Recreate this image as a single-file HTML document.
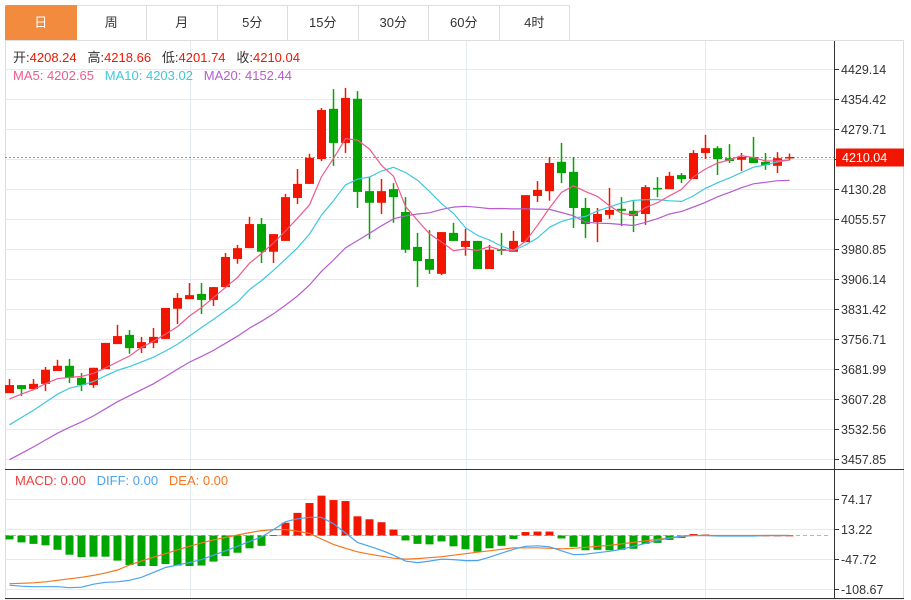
<!DOCTYPE html>
<html><head><meta charset="utf-8">
<style>
body{margin:0;background:#fff;width:911px;height:600px;overflow:hidden;font-family:"Liberation Sans","Noto Sans CJK SC",sans-serif;}
.tabs{position:absolute;left:5px;top:5px;height:35px;display:flex;}
.tab{width:69.5px;height:34px;border:1px solid #ddd;border-left:none;box-sizing:content-box;text-align:center;line-height:34px;font-size:13px;color:#333;}
.tab.first{border-left:1px solid #ddd;}
.tab.active{background:#f38b3e;color:#fff;border-color:#f38b3e;border-radius:2px 0 0 0;}
svg{position:absolute;left:0;top:0;}
</style></head><body>
<div class="tabs">
<div class="tab first active">日</div>
<div class="tab">周</div>
<div class="tab">月</div>
<div class="tab">5分</div>
<div class="tab">15分</div>
<div class="tab">30分</div>
<div class="tab">60分</div>
<div class="tab">4时</div>
</div>
<svg id="chart" width="911" height="600"></svg>
<script>
const opens=[3622,3642,3632,3645,3677,3690,3660,3642,3682,3744,3767,3734,3747,3757,3832,3856,3869,3854,3886,3956,3983,4043,3974,4001,4108,4143,4205,4330,4245,4355,4125,4096,4130,4073,3986,3956,3919,4021,3986,4001,3931,3981,3974,3998,4113,4125,4198,4173,4083,4048,4066,4081,4076,4068,4133,4130,4165,4155,4220,4232,4207,4203,4210,4198,4188,4208.24];
const highs=[3657,3642,3657,3687,3705,3707,3672,3685,3747,3792,3779,3762,3784,3834,3871,3896,3896,3886,3971,3991,4061,4058,4018,4118,4180,4218,4332,4379,4382,4374,4160,4155,4145,4110,4021,4028,4023,4046,4031,4001,3991,4021,4026,4115,4150,4210,4245,4210,4108,4083,4133,4110,4100,4140,4160,4173,4170,4227,4265,4237,4242,4220,4260,4220,4222,4218.66];
const lows=[3622,3615,3632,3627,3677,3647,3627,3635,3682,3744,3720,3722,3734,3757,3794,3856,3819,3839,3886,3944,3983,3946,3946,4001,4093,4143,4200,4188,4220,4083,4006,4068,4046,3971,3886,3919,3916,4001,3964,3931,3931,3966,3974,3998,4098,4101,4145,4033,4008,3998,4056,4038,4023,4041,4110,4130,4145,4155,4205,4165,4195,4175,4195,4178,4170,4201.74];
const closes=[3642,3632,3645,3680,3690,3660,3642,3685,3747,3764,3734,3749,3762,3834,3859,3866,3854,3886,3961,3983,4043,3974,4018,4110,4143,4208,4327,4245,4357,4123,4096,4125,4110,3979,3951,3929,4023,4001,4001,3931,3979,3976,4001,4115,4128,4195,4170,4083,4043,4068,4078,4076,4063,4135,4130,4163,4155,4220,4232,4205,4200,4210,4195,4190,4207,4210.04];
const priorCloses=[3310,3325,3340,3350,3365,3375,3385,3395,3410,3435,3450,3465,3480,3490,3510,3570,3590,3605,3628];
const macdHist=[-8,-14,-17,-20,-29,-39,-44,-43,-43,-51,-60,-62,-62,-58,-61,-62,-61,-53,-42,-35,-26,-21,1,26,46,66,81,72,70,39,33,27,12,-10,-17,-18,-12,-22,-28,-33,-26,-21,-7,7,8,8,-6,-23,-30,-29,-30,-29,-27,-17,-15,-9,-5,3,2,-1,-1,-1,-1,0,0,0];
const diffVals=[-101,-103,-104,-104,-104,-106,-105,-99,-95,-94,-91,-85,-75,-65,-60,-55,-49,-40,-31,-22,-12,-3,12,28,34,37,37,24,5,-14,-22,-30,-40,-52,-55,-52,-48,-49,-51,-51,-44,-36,-28,-22,-21,-23,-31,-39,-38,-35,-32,-28,-22,-16,-10,-5,-1,0,0,-1,-1,-1,-1,0,0,0];
const deaVals=[-98,-97,-96,-94,-91,-88,-85,-81,-76,-70,-60,-52,-44,-37,-29,-22,-15,-9,-4,1,6,10,12,12,9,4,-7,-18,-26,-33,-38,-42,-46,-48,-47,-45,-43,-40,-37,-34,-31,-28,-25,-25,-25,-26,-27,-26,-24,-22,-20,-17,-14,-11,-8,-5,-2,0,0,0,0,0,0,0,0,0];
const priceTicks=[4429.14,4354.42,4279.71,4205.00,4130.28,4055.57,3980.85,3906.14,3831.42,3756.71,3681.99,3607.28,3532.56,3457.85];
const macdTicks=[74.17,13.22,-47.72,-108.67];
const lastPrice=4210.04;

const NS="http://www.w3.org/2000/svg";
const svg=document.getElementById('chart');
function mk(tag,attrs,parent){const e=document.createElementNS(NS,tag);for(const k in attrs)e.setAttribute(k,attrs[k]);(parent||svg).appendChild(e);return e;}
const L=5,R=834;
const pMax=priceTicks[0],pMin=priceTicks[priceTicks.length-1];
function yP(p){return 69+(pMax-p)/(pMax-pMin)*390;}
const mMax=macdTicks[0],mMin=macdTicks[macdTicks.length-1];
function yM(v){return 499+(mMax-v)/(mMax-mMin)*90;}
function xI(i){return 9.5+12*i;}

// frame
let e=mk('rect',{x:5.5,y:40.5,width:898,height:558.5,fill:'none',stroke:'#ddd'});


// grid
[190,466,705].forEach(x=>{e=mk('line',{x1:x+.5,x2:x+.5,y1:41,y2:599,stroke:'#e3ebf1'});

});
priceTicks.forEach(t=>{const y=Math.round(yP(t))+.5;e=mk('line',{x1:L,x2:R,y1:y,y2:y,stroke:'#e3ebf1'});

});
macdTicks.forEach(t=>{const y=Math.round(yM(t))+.5;e=mk('line',{x1:L,x2:R,y1:y,y2:y,stroke:'#e3ebf1'});

});
// axis lines
e=mk('line',{x1:834.5,x2:834.5,y1:41,y2:599,stroke:'#333'});


e=mk('line',{x1:5,x2:904,y1:469.5,y2:469.5,stroke:'#333'});


e=mk('line',{x1:5,x2:904,y1:598.5,y2:598.5,stroke:'#333'});


// ticks + labels
priceTicks.forEach(t=>{const y=Math.round(yP(t))+.5;
e=mk('line',{x1:834,x2:839,y1:y,y2:y,stroke:'#333'});


e=mk('text',{x:841,y:y+4.5,'font-size':12.5,fill:'#333'});e.textContent=t.toFixed(2);

});
macdTicks.forEach(t=>{const y=Math.round(yM(t))+.5;
e=mk('line',{x1:834,x2:839,y1:y,y2:y,stroke:'#333'});


e=mk('text',{x:841,y:y+4.5,'font-size':12.5,fill:'#333'});e.textContent=t.toFixed(2);

});
// last price line
const yl=Math.round(yP(lastPrice))+.5;
e=mk('line',{x1:L,x2:R,y1:yl,y2:yl,stroke:'#f07070','stroke-dasharray':'2,2'});


e=mk('rect',{x:836,y:yl-9,width:68,height:18,fill:'#f21600'});


e=mk('text',{x:842,y:yl+4.5,'font-size':12.5,fill:'#fff'});e.textContent=lastPrice.toFixed(2);


// MACD zero line
const y0=yM(0);
e=mk('line',{x1:L,x2:830,y1:y0,y2:y0,stroke:'#8cc4dc','stroke-dasharray':'4,3'});


// candles
for(let i=0;i<closes.length;i++){
 const up=closes[i]>=opens[i];const c=up?'#f21600':'#00a600';const x=xI(i);
 e=mk('line',{x1:x,x2:x,y1:yP(highs[i]),y2:yP(lows[i]),stroke:c,'stroke-width':1.5});
 
 
 const t=yP(Math.max(opens[i],closes[i])),b=yP(Math.min(opens[i],closes[i]));
 e=mk('rect',{x:x-4.5,y:t,width:9,height:Math.max(1.5,b-t),fill:c});
 
 
}
// MAs
const all=priorCloses.concat(closes);const off=priorCloses.length;
function ma(n,color,name){let pts=[];for(let i=0;i<closes.length;i++){let s=0;for(let k=0;k<n;k++)s+=all[off+i-k];pts.push(xI(i)+','+yP(s/n).toFixed(1));}
 e=mk('polyline',{points:pts.join(' '),fill:'none',stroke:color,'stroke-width':1.2});
 
 }
ma(20,'#b65cd0','ma20-line');ma(10,'#3ec8dc','ma10-line');ma(5,'#f05a8a','ma5-line');
// MACD histogram
for(let i=0;i<macdHist.length;i++){const v=macdHist[i];const x=xI(i);const y=yM(v);
 e=mk('rect',{x:x-4,y:Math.min(y,y0),width:8,height:Math.max(0.8,Math.abs(y-y0)),fill:v>=0?'#f21600':'#00a600'});
 
 }
function line(arr,color,name){e=mk('polyline',{points:arr.map((v,i)=>xI(i)+','+yM(v).toFixed(1)).join(' '),fill:'none',stroke:color,'stroke-width':1.2});
 
 }
line(deaVals,'#f57520','dea-line');line(diffVals,'#4aa3f0','diff-line');
// legends
function legend(x,y,parts,name){e=mk('text',{x:x,y:y,'font-size':13});
 parts.forEach(p=>{const s=mk('tspan',{fill:p[1]},e);s.textContent=p[0];});}
legend(13,62,[['开:','#333'],['4208.24   ','#f21600'],['高:','#333'],['4218.66   ','#f21600'],['低:','#333'],['4201.74   ','#f21600'],['收:','#333'],['4210.04','#f21600']],'ohlc-legend');
svg.lastChild.setAttribute('xml:space','preserve');svg.lastChild.style.whiteSpace='pre';
legend(13,80,[['MA5: 4202.65   ','#f05a8a'],['MA10: 4203.02   ','#3ec8dc'],['MA20: 4152.44','#b65cd0']],'ma-legend');
svg.lastChild.style.whiteSpace='pre';
legend(15,485,[['MACD: 0.00   ','#f04040'],['DIFF: 0.00   ','#4aa3f0'],['DEA: 0.00','#f57520']],'macd-legend');
svg.lastChild.style.whiteSpace='pre';
</script>
</body></html>
